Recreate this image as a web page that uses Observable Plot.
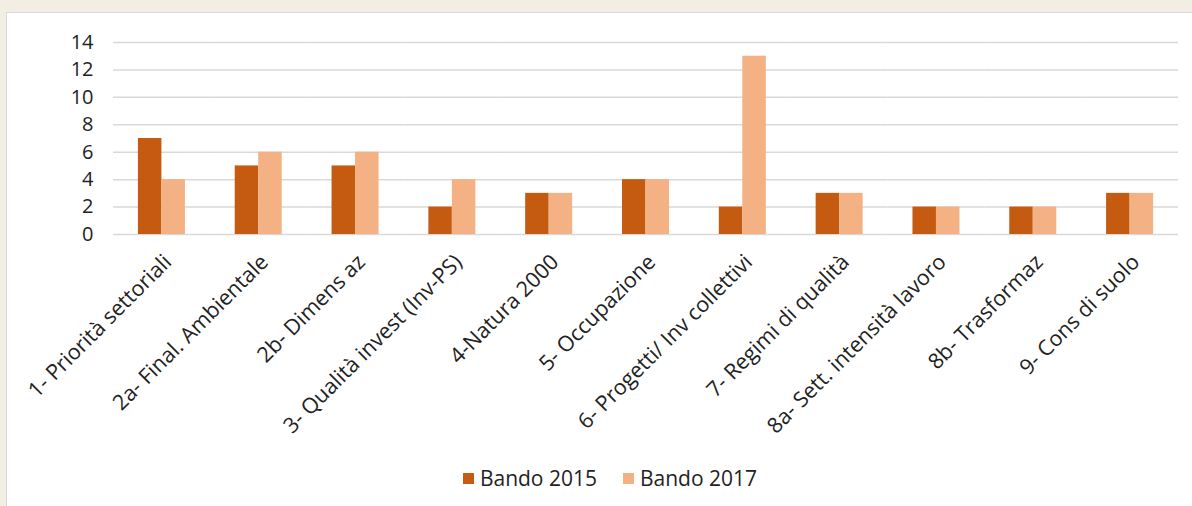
<!DOCTYPE html>
<html>
<head>
<meta charset="utf-8">
<script src="https://cdn.jsdelivr.net/npm/d3@7"></script>
<script src="https://cdn.jsdelivr.net/npm/@observablehq/plot@0.6"></script>
<style>
  html, body { margin: 0; padding: 0; }
  body { width: 1192px; height: 506px; background: #F2EEE4; position: relative; overflow: hidden; font-family: "Open Sans", sans-serif; }
  #panel { position: absolute; left: 6px; top: 12px; width: 1200px; height: 510px; background: #fff; border: 1.5px solid #D9D9D9; box-sizing: border-box; }
  #chart { position: absolute; left: 0; top: 0; }
  #legend { position: absolute; left: 0; width: 1192px; top: 464px; display: flex; justify-content: center; gap: 26px; font-size: 21px; color: #222; padding-left: 28px; box-sizing: border-box; }
  .item { display: flex; align-items: center; gap: 6px; }
  .sw { width: 11px; height: 11px; display: inline-block; }
</style>
</head>
<body>
<div id="panel"></div>
<div id="chart"></div>
<div id="legend"></div>
<script>
const categories = [
  "1- Priorità settoriali",
  "2a- Final. Ambientale",
  "2b- Dimens az",
  "3- Qualità invest (Inv-PS)",
  "4-Natura 2000",
  "5- Occupazione",
  "6- Progetti/ Inv collettivi",
  "7- Regimi di qualità",
  "8a- Sett. intensità lavoro",
  "8b- Trasformaz",
  "9- Cons di suolo"
];
const series = ["Bando 2015", "Bando 2017"];
const bando2015 = [7, 5, 5, 2, 3, 4, 2, 3, 2, 2, 3];
const bando2017 = [4, 6, 6, 4, 3, 4, 13, 3, 2, 2, 3];
const colors = ["#C55A11", "#F4B183"];
const yTicks = [0, 2, 4, 6, 8, 10, 12, 14];

const data = categories.flatMap((c, i) => [
  {category: c, series: series[0], value: bando2015[i]},
  {category: c, series: series[1], value: bando2017[i]}
]);

const chart = Plot.plot({
  width: 1192,
  height: 440,
  marginLeft: 113,
  marginRight: 14,
  marginTop: 42,
  marginBottom: 206,
  style: {background: "transparent", fontFamily: "Open Sans, sans-serif", color: "#222"},
  fx: {domain: categories, padding: 0, round: false},
  x: {domain: series, paddingInner: 0, paddingOuter: 1.06, round: false, axis: null},
  y: {domain: [0, 14], ticks: yTicks},
  color: {domain: series, range: colors},
  marks: [
    Plot.gridY(yTicks, {stroke: "#D9D9D9", strokeOpacity: 1, strokeWidth: 1.5, facet: "exclude"}),
    Plot.axisY(yTicks, {tickSize: 0, tickPadding: 20, fontSize: 20, label: null, facet: "exclude"}),
    Plot.axisFx({anchor: "bottom", tickRotate: -45, tickSize: 0, tickPadding: 24, dx: 6, fontSize: 21.5, label: null}),
    Plot.barY(data, {fx: "category", x: "series", y: "value", fill: "series"})
  ]
});
document.getElementById("chart").appendChild(chart);

const legend = document.getElementById("legend");
series.forEach((s, i) => {
  const item = document.createElement("div");
  item.className = "item";
  const sw = document.createElement("span");
  sw.className = "sw";
  sw.style.background = colors[i];
  const t = document.createElement("span");
  t.textContent = s;
  item.appendChild(sw);
  item.appendChild(t);
  legend.appendChild(item);
});
</script>
</body>
</html>
